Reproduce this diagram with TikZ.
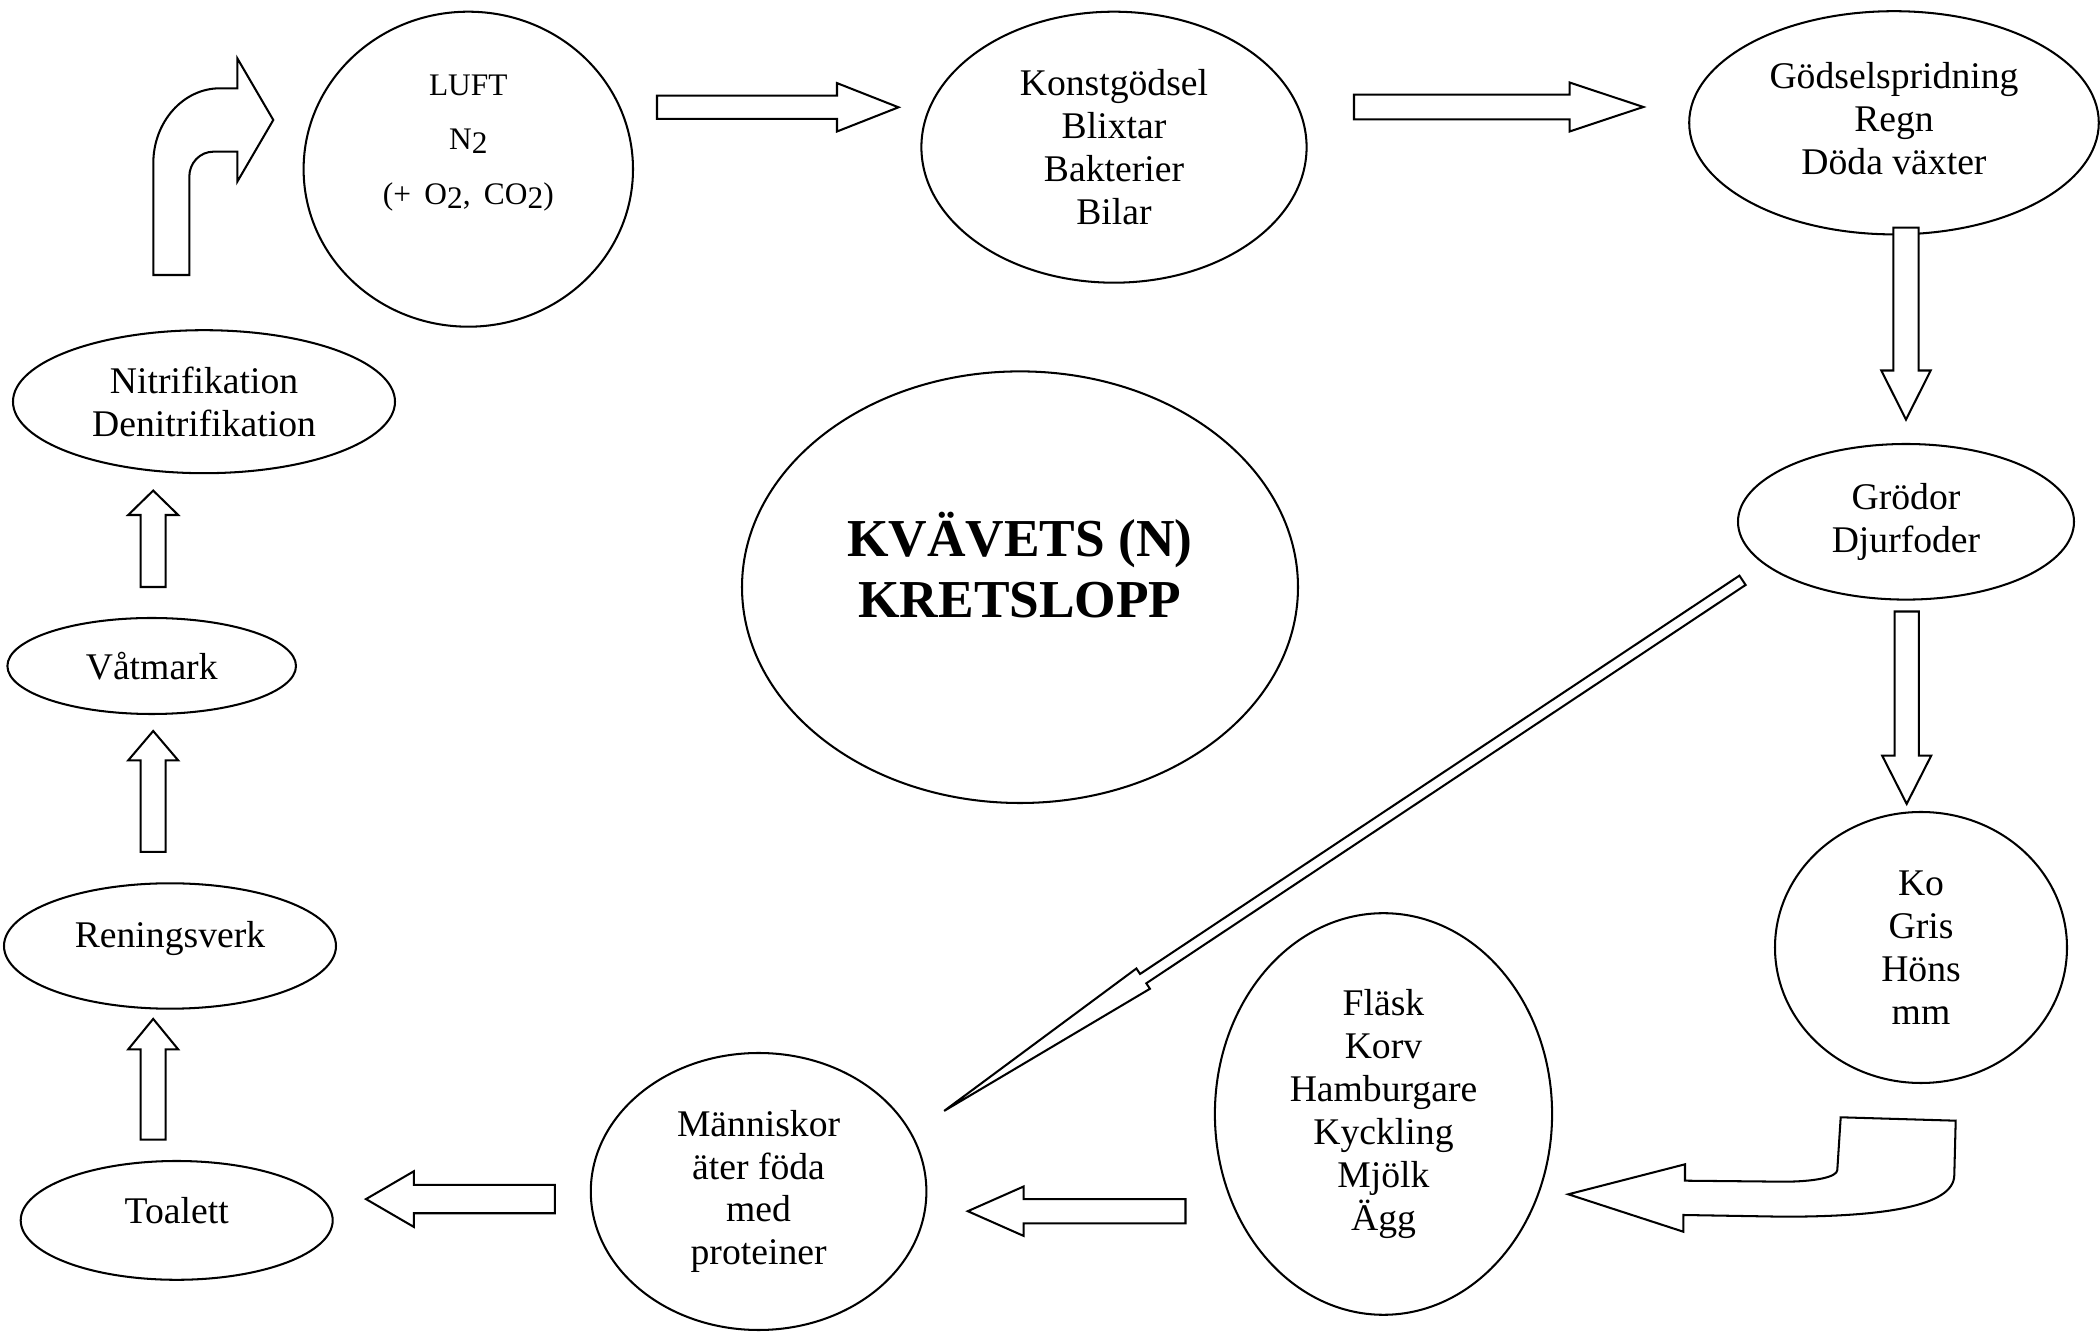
\documentclass[tikz,border=0pt]{standalone}
\usepackage{fontspec}
\setmainfont{Liberation Serif}
\usetikzlibrary{calc, shapes.geometric}

\newcommand{\lowered}[1]{\raisebox{-0.12em}{#1}}

% blockpil: start, spets, halv skaftbredd, halv huvudbredd, huvudlangd
\newcommand{\blockarrow}[5]{%
  \path let \p1=(#1), \p2=(#2) in
    \pgfextra{%
      \pgfmathsetmacro{\arrowang}{atan2(\y2-\y1,\x2-\x1)}%
      \pgfmathsetmacro{\arrowlen}{veclen(\x2-\x1,\y2-\y1)/0.318671}%
      \xdef\arrowang{\arrowang}\xdef\arrowlen{\arrowlen}};
  \draw[flow, shift={(#1)}, rotate=\arrowang]
    (0,#3) -- ({\arrowlen-#5},#3) -- ({\arrowlen-#5},#4) -- (\arrowlen,0)
    -- ({\arrowlen-#5},-#4) -- ({\arrowlen-#5},-#3) -- (0,-#3) -- cycle;
}

\tikzset{
  every node/.style={font=\fontsize{12}{13.65}\selectfont},
  stage/.style 2 args={draw, ellipse, line width=0.65pt, inner sep=0pt, align=center,
    minimum width=#1*0.112mm, minimum height=#2*0.112mm},
  flow/.style={draw, fill=white, line width=0.65pt, line join=miter},
}

\begin{document}
\begin{tikzpicture}[x=0.112mm, y=0.112mm]
  \useasboundingbox (0,0) rectangle (2100,1335);

  % kretsloppets steg
  \node[stage={329.4}{315}, font=\fontsize{10}{17.5}\selectfont] (luft) at (468.3,1165.8)
    {LUFT\\N\lowered{2}\\(+\hspace{1.5mm}O\lowered{2},\hspace{1.5mm}CO\lowered{2})\rule[-6.6mm]{0pt}{0pt}};
  \node[stage={385.2}{271}] (konst) at (1114,1187.8) {Konstgödsel\\Blixtar\\Bakterier\\Bilar};
  \node[stage={409.6}{223.2}, text depth=1mm] (godsel) at (1894,1212.2) {Gödselspridning\\Regn\\Döda växter};
  \node[stage={336}{155.6}] (grodor) at (1906,813.2) {Grödor\\Djurfoder};
  \node[stage={292}{271}] (djur) at (1921,387.5) {Ko\\Gris\\Höns\\mm};
  \node[stage={337.2}{401.6}] (mat) at (1383.5,221) {Fläsk\\Korv\\Hamburgare\\Kyckling\\Mjölk\\Ägg};
  \node[stage={335.6}{277}] (manniska) at (758.6,143.5) {Människor\\äter föda\\med\\proteiner};
  \node[stage={312}{118.8}, text depth=2.25mm] (toalett) at (176.7,114.6) {Toalett};
  \node[stage={332}{125.4}, text depth=2.7mm] (rening) at (170,389) {Reningsverk};
  \node[stage={288.6}{96}] (vatmark) at (151.7,669) {Våtmark};
  \node[stage={382}{143}] (nitri) at (204,933.3) {Nitrifikation\\Denitrifikation};

  % rubrik
  \node[stage={556}{431.6}, font=\bfseries\fontsize{17}{19.5}\selectfont] (titel) at (1020,747.8)
    {KVÄVETS (N)\\KRETSLOPP\rule[-5mm]{0pt}{0pt}};

  % pilarnas ändar
  \coordinate (s1) at (657,1227.7);   \coordinate (t1) at (898.5,1227.7);
  \coordinate (s2) at (1354,1228);    \coordinate (t2) at (1643.3,1228);
  \coordinate (s3) at (1906,1107.3);  \coordinate (t3) at (1906,915.4);
  \coordinate (s4) at (1906.7,723.5); \coordinate (t4) at (1906.7,531.1);
  \coordinate (s5) at (1185.5,123.8); \coordinate (t5) at (967.8,123.8);
  \coordinate (s6) at (554.9,135.9);  \coordinate (t6) at (366,135.9);
  \coordinate (s7) at (153.2,195.3);  \coordinate (t7) at (153.2,316.1);
  \coordinate (s8) at (153.2,483.2);  \coordinate (t8) at (153.2,604);
  \coordinate (s9) at (153.2,748);    \coordinate (t9) at (153.2,844.4);
  \coordinate (s10) at (1742.5,754.7); \coordinate (t10) at (944,224);

  \blockarrow{s1}{t1}{11.65}{24.2}{61.5}
  \blockarrow{s2}{t2}{12.3}{24.5}{73.7}
  \blockarrow{s3}{t3}{12.7}{24.7}{49.1}
  \blockarrow{s4}{t4}{12.1}{24.5}{48.2}
  \blockarrow{s5}{t5}{12.15}{24.7}{55.8}
  \blockarrow{s6}{t6}{14.15}{27.8}{47.8}
  \blockarrow{s7}{t7}{12.5}{25}{30.5}
  \blockarrow{s8}{t8}{12.5}{25}{29.4}
  \blockarrow{s9}{t9}{12.5}{25}{24.4}
  \blockarrow{s10}{t10}{5.6}{12.2}{239}

  % böjd pil upp mot luften
  \draw[flow] (153.3,1060) -- (153.3,1171.7)
    arc[start angle=180, end angle=90, x radius=66.7, y radius=75]
    -- (237.3,1246.7) -- (237.3,1276.7) -- (273.3,1215) -- (237.3,1153.3)
    -- (237.3,1183.3) -- (213.3,1183.3)
    arc[start angle=90, end angle=180, x radius=24, y radius=25]
    -- (189.3,1060) -- cycle;

  % böjd pil från djuren till maten
  \draw[flow] (1840.7,217.7) -- (1955.7,214.3) -- (1954.3,160)
    .. controls (1954.3,128) and (1880,118.3) .. (1783.3,118.3)
    -- (1683.3,120) -- (1683.3,103.3) -- (1568.3,140.7) -- (1685,170.7)
    -- (1685,154.3) -- (1783.3,153.3)
    .. controls (1815,153.3) and (1837.3,158) .. (1837.3,165) -- cycle;
\end{tikzpicture}
\end{document}
